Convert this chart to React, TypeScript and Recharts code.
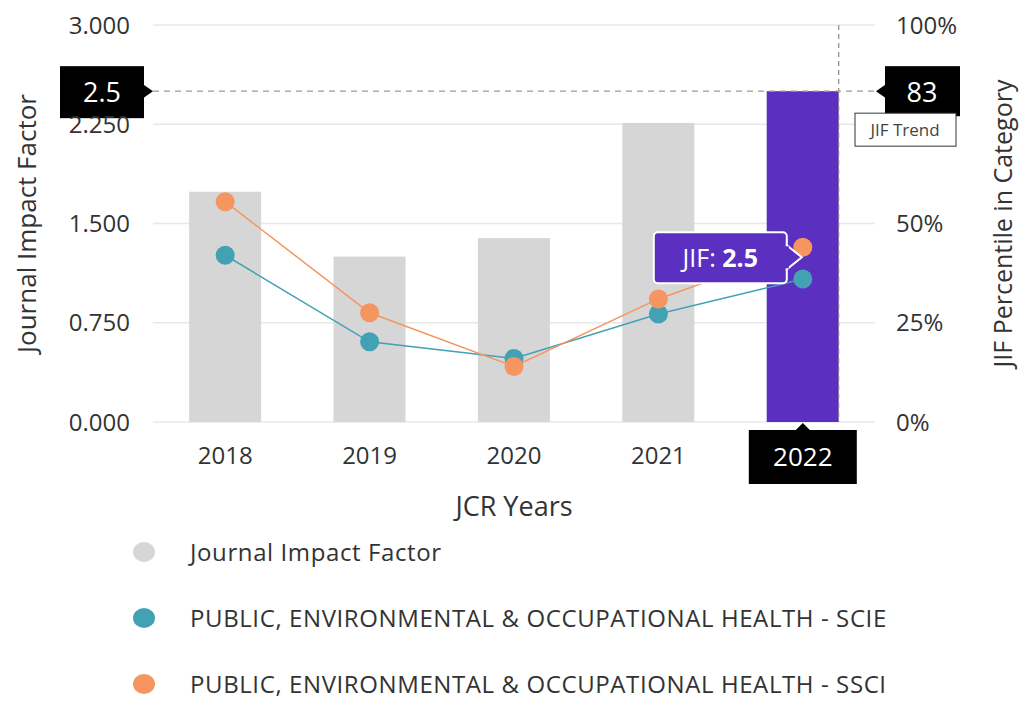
import React from 'react';
import { ComposedChart, Bar, Line, XAxis, YAxis, CartesianGrid, ReferenceLine, Legend, Label, LabelList, Cell } from 'recharts';

const years = ['2018', '2019', '2020', '2021', '2022'];
const jifValues = [1.74, 1.25, 1.39, 2.26, 2.5];
const scieValues = [42, 20.2, 16, 27.2, 36];
const ssciValues = [55.5, 27.5, 14, 31, 44];
const leftTicks = [0, 0.75, 1.5, 2.25, 3];
const rightTicks = [0, 25, 50, 100];
const seriesNames = [
  'Journal Impact Factor',
  'PUBLIC, ENVIRONMENTAL & OCCUPATIONAL HEALTH - SCIE',
  'PUBLIC, ENVIRONMENTAL & OCCUPATIONAL HEALTH - SSCI',
];
const currentYear = '2022';
const currentJif = 2.5;
const currentPercentile = 83;

const colors = {
  bar: '#d6d6d6',
  barActive: '#5b2fbf',
  scie: '#43a1b4',
  ssci: '#f5955f',
  text: '#333333',
  grid: '#e8e8e8',
};
const FONT = '"Open Sans", "Noto Sans", sans-serif';

const data = years.map((year, i) => ({
  year,
  jif: jifValues[i],
  scie: scieValues[i],
  ssci: ssciValues[i],
}));

// bar shape: the current year also gets the dashed marker along its right edge
const renderBar = (props: any) => {
  const { x, y, width, height, payload, fill } = props;
  if (payload.year !== currentYear) {
    return <rect x={x} y={y} width={width} height={height} fill={fill} />;
  }
  const bottom = y + height;
  const top = bottom - (height * leftTicks[leftTicks.length - 1]) / payload.jif;
  return (
    <g>
      <rect x={x} y={y} width={width} height={height} fill={fill} />
      <line x1={x + width} x2={x + width} y1={top} y2={bottom} stroke="#8a8a8a" strokeDasharray="5 4" strokeWidth={1.2} />
    </g>
  );
};

const renderXTick = (props: any) => {
  const { x, y, payload } = props;
  if (payload.value === currentYear) {
    return (
      <g>
        <polygon points={`${x - 8},${y + 9} ${x},${y + 1} ${x + 8},${y + 9}`} fill="#000" />
        <rect x={x - 54} y={y + 8} width={108} height={54} fill="#000" />
        <text x={x} y={y + 35} dy="0.35em" textAnchor="middle" fill="#fff" fontSize={26} fontFamily={FONT}>
          {payload.value}
        </text>
      </g>
    );
  }
  return (
    <text x={x} y={y + 34} dy="0.35em" textAnchor="middle" fill={colors.text} fontSize={24} fontFamily={FONT}>
      {payload.value}
    </text>
  );
};

const renderRefLabel = (props: any) => {
  const { viewBox } = props;
  const { x, y, width } = viewBox;
  const right = x + width;
  return (
    <g>
      <rect x={x - 93} y={y - 25} width={84} height={52} fill="#000" />
      <polygon points={`${x - 10},${y - 7} ${x},${y} ${x - 10},${y + 7}`} fill="#000" />
      <text x={x - 51} y={y + 1} dy="0.35em" textAnchor="middle" fill="#fff" fontSize={27} fontFamily={FONT}>
        {currentJif}
      </text>
      <rect x={right + 10} y={y - 25} width={75} height={50} fill="#000" />
      <polygon points={`${right + 11},${y - 7} ${right + 1},${y} ${right + 11},${y + 7}`} fill="#000" />
      <text x={right + 47} y={y + 1} dy="0.35em" textAnchor="middle" fill="#fff" fontSize={27} fontFamily={FONT}>
        {currentPercentile}
      </text>
      <rect x={right - 20} y={y + 22} width={101} height={33} fill="#fff" stroke="#333" strokeWidth={1} />
      <text x={right + 30} y={y + 39} dy="0.35em" textAnchor="middle" fill="#444" fontSize={17} fontFamily={FONT}>
        JIF Trend
      </text>
    </g>
  );
};

const renderTooltipLabel = (props: any) => {
  const { x, y, value } = props;
  if (value !== currentYear) return null;
  const tipX = x - 1;
  const tipY = y + 10;
  const boxR = tipX - 15;
  const boxL = boxR - 133;
  return (
    <g>
      <rect x={boxL} y={tipY - 25} width={133} height={51} rx={4} fill={colors.barActive} stroke="#fff" strokeWidth={2} />
      <polygon points={`${boxR},${tipY - 12} ${tipX},${tipY} ${boxR},${tipY + 12}`} fill={colors.barActive} stroke="#fff" strokeWidth={2} />
      <rect x={boxR - 3} y={tipY - 11} width={5} height={22} fill={colors.barActive} />
      <text x={(boxL + boxR) / 2} y={tipY + 1} dy="0.35em" textAnchor="middle" fill="#fff" fontSize={25} fontFamily={FONT}>
        JIF: <tspan fontWeight="bold">{currentJif}</tspan>
      </text>
    </g>
  );
};

const renderLegend = () => {
  const legendColors = [colors.bar, colors.scie, colors.ssci];
  return (
    <div style={{ height: 172, fontFamily: FONT, fontSize: 24, lineHeight: 1.2, letterSpacing: 0.6, color: colors.text }}>
      {seriesNames.map((name, i) => (
        <div key={name} style={{ display: 'flex', alignItems: 'center', height: 44, marginBottom: 22 }}>
          <span
            style={{
              display: 'inline-block',
              width: 22,
              height: 20,
              borderRadius: '50%',
              background: legendColors[i],
              marginLeft: 133,
              marginRight: 35,
            }}
          />
          <span>{name}</span>
        </div>
      ))}
    </div>
  );
};

const renderLeftTitle = (props: any) => {
  const { viewBox } = props;
  const cx = viewBox.x + 27;
  const cy = viewBox.y + viewBox.height / 2;
  return (
    <text x={cx} y={cy} transform={`rotate(-90, ${cx}, ${cy})`} textAnchor="middle" dy="0.35em" fill={colors.text} fontSize={26} fontFamily={FONT}>
      Journal Impact Factor
    </text>
  );
};

const renderRightTitle = (props: any) => {
  const { viewBox } = props;
  const cx = viewBox.x + 128;
  const cy = viewBox.y + viewBox.height / 2;
  return (
    <text x={cx} y={cy} transform={`rotate(-90, ${cx}, ${cy})`} textAnchor="middle" dy="0.35em" fill={colors.text} fontSize={25} fontFamily={FONT}>
      JIF Percentile in Category
    </text>
  );
};

export default function App() {
  return (
    <div style={{ position: 'absolute', left: 0, top: 0, background: '#fff' }}>
      <ComposedChart width={1022} height={702} data={data} margin={{ top: 25, right: 0, left: 0, bottom: 0 }} barCategoryGap="25%">
        <CartesianGrid yAxisId="left" vertical={false} stroke={colors.grid} strokeWidth={1.5} />
        <XAxis
          dataKey="year"
          axisLine={false}
          tickLine={false}
          tickSize={0}
          tickMargin={0}
          height={108}
          tick={renderXTick}
          interval={0}
        >
          <Label value="JCR Years" position="insideBottom" offset={14} fill={colors.text} fontSize={27} fontFamily={FONT} />
        </XAxis>
        <YAxis
          yAxisId="left"
          domain={[0, 3]}
          ticks={leftTicks}
          interval={0}
          width={153}
          axisLine={false}
          tickLine={false}
          tickSize={0}
          tickMargin={23}
          tickFormatter={(v: number) => v.toFixed(3)}
          tick={{ fill: colors.text, fontSize: 24, fontFamily: FONT }}
        >
          <Label content={renderLeftTitle} />
        </YAxis>
        <YAxis
          yAxisId="right"
          orientation="right"
          domain={[0, 100]}
          ticks={rightTicks}
          interval={0}
          width={147}
          axisLine={false}
          tickLine={false}
          tickSize={0}
          tickMargin={21}
          tickFormatter={(v: number) => `${v}%`}
          tick={{ fill: colors.text, fontSize: 24, fontFamily: FONT }}
        >
          <Label content={renderRightTitle} />
        </YAxis>
        <Legend verticalAlign="bottom" align="left" content={renderLegend} wrapperStyle={{ left: 0 }} />
        <Bar yAxisId="left" dataKey="jif" name={seriesNames[0]} fill={colors.bar} shape={renderBar} isAnimationActive={false}>
          {data.map((d) => (
            <Cell key={d.year} fill={d.year === currentYear ? colors.barActive : colors.bar} />
          ))}
        </Bar>
        <ReferenceLine yAxisId="left" y={currentJif} stroke="#9a9a9a" strokeDasharray="6 5" strokeWidth={1.2} label={renderRefLabel} />
        <Line
          yAxisId="right"
          dataKey="scie"
          name={seriesNames[1]}
          stroke={colors.scie}
          strokeWidth={1.5}
          dot={{ r: 9.5, fill: colors.scie, stroke: 'none' }}
          activeDot={false}
          isAnimationActive={false}
        />
        <Line
          yAxisId="right"
          dataKey="ssci"
          name={seriesNames[2]}
          stroke={colors.ssci}
          strokeWidth={1.5}
          dot={{ r: 9.5, fill: colors.ssci, stroke: 'none' }}
          activeDot={false}
          isAnimationActive={false}
        >
          <LabelList dataKey="year" content={renderTooltipLabel} />
        </Line>
      </ComposedChart>
    </div>
  );
}
